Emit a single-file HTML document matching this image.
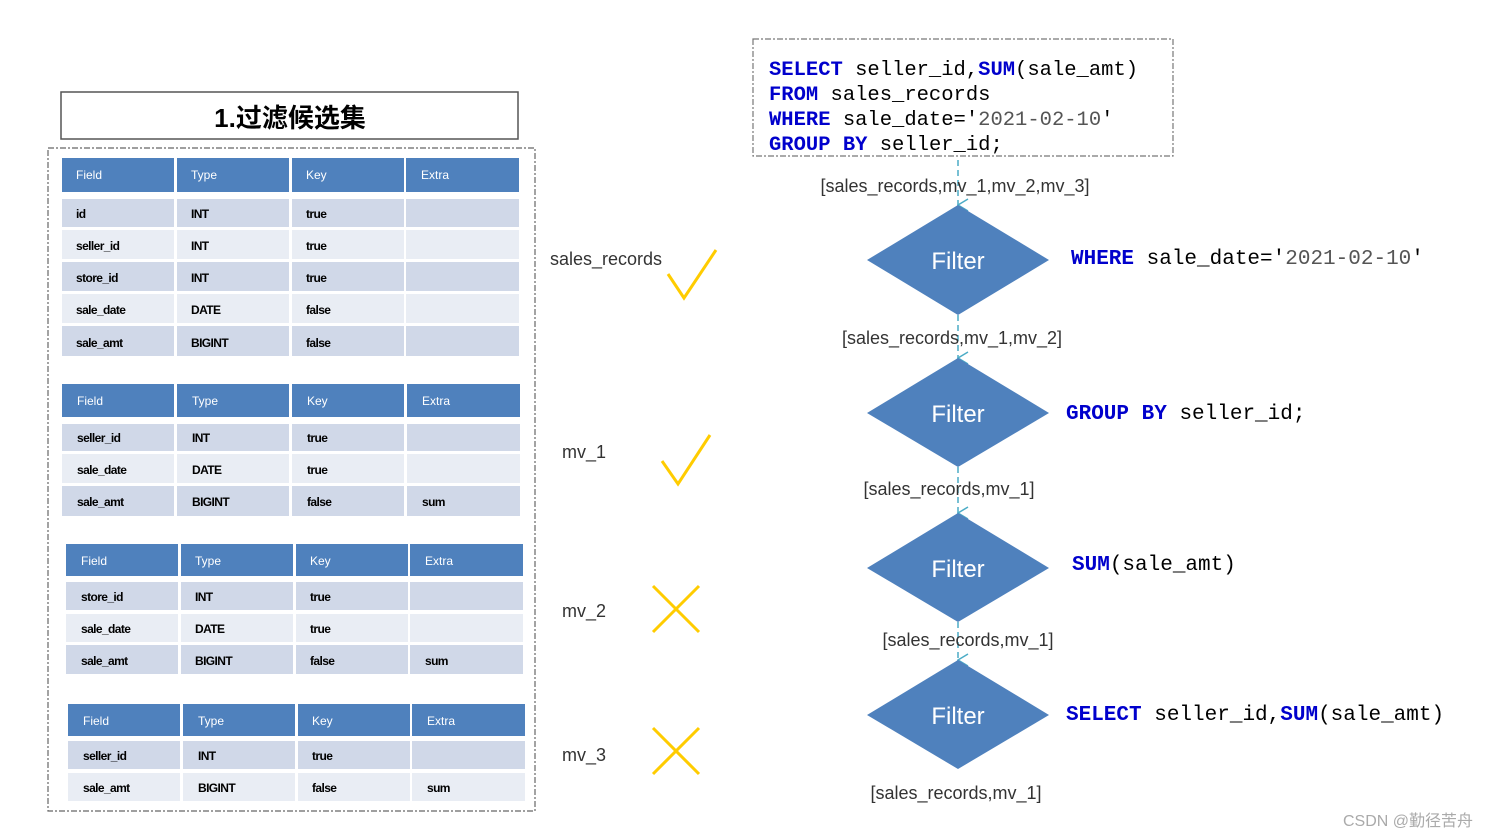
<!DOCTYPE html>
<html><head><meta charset="utf-8"><style>
html,body{margin:0;padding:0;background:#fff;}
svg{display:block;}
.h{font-family:"Liberation Sans",sans-serif;font-size:12px;fill:#fff;}
.c{font-family:"Liberation Sans",sans-serif;font-size:12px;font-weight:bold;fill:#000;letter-spacing:-0.6px;}
.m{font-family:"Liberation Mono",monospace;font-size:20.5px;fill:#000;}
.k{font-weight:bold;fill:#0000cc;}
.l{font-family:"Liberation Sans",sans-serif;font-size:18px;fill:#333;}
.f{font-family:"Liberation Sans",sans-serif;font-size:24px;fill:#fff;}
</style></head><body>
<svg width="1489" height="838" viewBox="0 0 1489 838" xmlns="http://www.w3.org/2000/svg">
<defs>
<marker id="ar" markerWidth="14" markerHeight="12" refX="7" refY="11" orient="auto" markerUnits="userSpaceOnUse">
<path d="M1,1 L7,11 L13,1" fill="none" stroke="#4bacc6" stroke-width="1.5"/>
</marker>
</defs>
<!-- title -->
<rect x="61" y="92" width="457" height="47" fill="#fff" stroke="#555" stroke-width="1.5"/>
<text x="290" y="127" text-anchor="middle" font-family="'Liberation Sans','Noto Sans CJK SC',sans-serif" font-size="26" font-weight="bold" fill="#000">1.过滤候选集</text>
<rect x="48" y="148" width="487" height="663" fill="none" stroke="#666" stroke-width="1.2" stroke-dasharray="6,2,2,2"/>

<!-- table 1 -->
<g>
<rect x="62" y="158" width="112" height="34" fill="#4f81bd"/><rect x="177" y="158" width="112" height="34" fill="#4f81bd"/><rect x="292" y="158" width="112" height="34" fill="#4f81bd"/><rect x="406" y="158" width="113" height="34" fill="#4f81bd"/>
<text class="h" x="76" y="179">Field</text><text class="h" x="191" y="179">Type</text><text class="h" x="306" y="179">Key</text><text class="h" x="421" y="179">Extra</text>
<g fill="#d0d8e8"><rect x="62" y="199" width="112" height="28"/><rect x="177" y="199" width="112" height="28"/><rect x="292" y="199" width="112" height="28"/><rect x="406" y="199" width="113" height="28"/></g>
<g fill="#e9edf4"><rect x="62" y="230" width="112" height="29"/><rect x="177" y="230" width="112" height="29"/><rect x="292" y="230" width="112" height="29"/><rect x="406" y="230" width="113" height="29"/></g>
<g fill="#d0d8e8"><rect x="62" y="262" width="112" height="29"/><rect x="177" y="262" width="112" height="29"/><rect x="292" y="262" width="112" height="29"/><rect x="406" y="262" width="113" height="29"/></g>
<g fill="#e9edf4"><rect x="62" y="294" width="112" height="29"/><rect x="177" y="294" width="112" height="29"/><rect x="292" y="294" width="112" height="29"/><rect x="406" y="294" width="113" height="29"/></g>
<g fill="#d0d8e8"><rect x="62" y="326" width="112" height="30"/><rect x="177" y="326" width="112" height="30"/><rect x="292" y="326" width="112" height="30"/><rect x="406" y="326" width="113" height="30"/></g>
<text class="c" x="76" y="218">id</text><text class="c" x="191" y="218">INT</text><text class="c" x="306" y="218">true</text>
<text class="c" x="76" y="250">seller_id</text><text class="c" x="191" y="250">INT</text><text class="c" x="306" y="250">true</text>
<text class="c" x="76" y="282">store_id</text><text class="c" x="191" y="282">INT</text><text class="c" x="306" y="282">true</text>
<text class="c" x="76" y="314">sale_date</text><text class="c" x="191" y="314">DATE</text><text class="c" x="306" y="314">false</text>
<text class="c" x="76" y="347">sale_amt</text><text class="c" x="191" y="347">BIGINT</text><text class="c" x="306" y="347">false</text>
</g>

<!-- table 2 -->
<g>
<rect x="62" y="384" width="112" height="33" fill="#4f81bd"/><rect x="177" y="384" width="112" height="33" fill="#4f81bd"/><rect x="292" y="384" width="112" height="33" fill="#4f81bd"/><rect x="407" y="384" width="113" height="33" fill="#4f81bd"/>
<text class="h" x="77" y="405">Field</text><text class="h" x="192" y="405">Type</text><text class="h" x="307" y="405">Key</text><text class="h" x="422" y="405">Extra</text>
<g fill="#d0d8e8"><rect x="62" y="424" width="112" height="27"/><rect x="177" y="424" width="112" height="27"/><rect x="292" y="424" width="112" height="27"/><rect x="407" y="424" width="113" height="27"/></g>
<g fill="#e9edf4"><rect x="62" y="454" width="112" height="29"/><rect x="177" y="454" width="112" height="29"/><rect x="292" y="454" width="112" height="29"/><rect x="407" y="454" width="113" height="29"/></g>
<g fill="#d0d8e8"><rect x="62" y="486" width="112" height="30"/><rect x="177" y="486" width="112" height="30"/><rect x="292" y="486" width="112" height="30"/><rect x="407" y="486" width="113" height="30"/></g>
<text class="c" x="77" y="442">seller_id</text><text class="c" x="192" y="442">INT</text><text class="c" x="307" y="442">true</text>
<text class="c" x="77" y="474">sale_date</text><text class="c" x="192" y="474">DATE</text><text class="c" x="307" y="474">true</text>
<text class="c" x="77" y="506">sale_amt</text><text class="c" x="192" y="506">BIGINT</text><text class="c" x="307" y="506">false</text><text class="c" x="422" y="506">sum</text>
</g>

<!-- table 3 -->
<g>
<rect x="66" y="544" width="112" height="32" fill="#4f81bd"/><rect x="181" y="544" width="112" height="32" fill="#4f81bd"/><rect x="296" y="544" width="112" height="32" fill="#4f81bd"/><rect x="410" y="544" width="113" height="32" fill="#4f81bd"/>
<text class="h" x="81" y="565">Field</text><text class="h" x="195" y="565">Type</text><text class="h" x="310" y="565">Key</text><text class="h" x="425" y="565">Extra</text>
<g fill="#d0d8e8"><rect x="66" y="582" width="112" height="28"/><rect x="181" y="582" width="112" height="28"/><rect x="296" y="582" width="112" height="28"/><rect x="410" y="582" width="113" height="28"/></g>
<g fill="#e9edf4"><rect x="66" y="614" width="112" height="28"/><rect x="181" y="614" width="112" height="28"/><rect x="296" y="614" width="112" height="28"/><rect x="410" y="614" width="113" height="28"/></g>
<g fill="#d0d8e8"><rect x="66" y="645" width="112" height="29"/><rect x="181" y="645" width="112" height="29"/><rect x="296" y="645" width="112" height="29"/><rect x="410" y="645" width="113" height="29"/></g>
<text class="c" x="81" y="601">store_id</text><text class="c" x="195" y="601">INT</text><text class="c" x="310" y="601">true</text>
<text class="c" x="81" y="633">sale_date</text><text class="c" x="195" y="633">DATE</text><text class="c" x="310" y="633">true</text>
<text class="c" x="81" y="665">sale_amt</text><text class="c" x="195" y="665">BIGINT</text><text class="c" x="310" y="665">false</text><text class="c" x="425" y="665">sum</text>
</g>

<!-- table 4 -->
<g>
<rect x="68" y="704" width="112" height="32" fill="#4f81bd"/><rect x="183" y="704" width="112" height="32" fill="#4f81bd"/><rect x="298" y="704" width="112" height="32" fill="#4f81bd"/><rect x="412" y="704" width="113" height="32" fill="#4f81bd"/>
<text class="h" x="83" y="725">Field</text><text class="h" x="198" y="725">Type</text><text class="h" x="312" y="725">Key</text><text class="h" x="427" y="725">Extra</text>
<g fill="#d0d8e8"><rect x="68" y="741" width="112" height="28"/><rect x="183" y="741" width="112" height="28"/><rect x="298" y="741" width="112" height="28"/><rect x="412" y="741" width="113" height="28"/></g>
<g fill="#e9edf4"><rect x="68" y="773" width="112" height="28"/><rect x="183" y="773" width="112" height="28"/><rect x="298" y="773" width="112" height="28"/><rect x="412" y="773" width="113" height="28"/></g>
<text class="c" x="83" y="760">seller_id</text><text class="c" x="198" y="760">INT</text><text class="c" x="312" y="760">true</text>
<text class="c" x="83" y="792">sale_amt</text><text class="c" x="198" y="792">BIGINT</text><text class="c" x="312" y="792">false</text><text class="c" x="427" y="792">sum</text>
</g>

<!-- middle labels and marks -->
<text class="l" x="550" y="265">sales_records</text>
<polyline points="668,274 684,298 716,250" fill="none" stroke="#ffcc00" stroke-width="3"/>
<text class="l" x="562" y="458">mv_1</text>
<polyline points="662,461 678,484 710,435" fill="none" stroke="#ffcc00" stroke-width="3"/>
<text class="l" x="562" y="617">mv_2</text>
<path d="M653,586 L699,632 M699,586 L653,632" stroke="#ffcc00" stroke-width="3"/>
<text class="l" x="562" y="761">mv_3</text>
<path d="M653,728 L699,774 M699,728 L653,774" stroke="#ffcc00" stroke-width="3"/>

<!-- SQL box -->
<rect x="753" y="39" width="420" height="117" fill="none" stroke="#777" stroke-width="1.2" stroke-dasharray="6,2,2,2"/>
<text class="m" x="769" y="75"><tspan class="k">SELECT</tspan> seller_id,<tspan class="k">SUM</tspan>(sale_amt)</text>
<text class="m" x="769" y="100"><tspan class="k">FROM</tspan> sales_records</text>
<text class="m" x="769" y="125"><tspan class="k">WHERE</tspan> sale_date='<tspan fill="#555">2021-02-10</tspan>'</text>
<text class="m" x="769" y="150"><tspan class="k">GROUP</tspan> <tspan class="k">BY</tspan> seller_id;</text>

<!-- connectors -->
<g stroke="#4bacc6" stroke-width="1.5" stroke-dasharray="6,4" fill="none">
<line x1="958" y1="160" x2="958" y2="205" marker-end="url(#ar)"/>
<line x1="958" y1="315" x2="958" y2="358" marker-end="url(#ar)"/>
<line x1="958" y1="467" x2="958" y2="513" marker-end="url(#ar)"/>
<line x1="958" y1="622" x2="958" y2="660" marker-end="url(#ar)"/>
</g>

<!-- diamonds -->
<g fill="#4f81bd">
<polygon points="958,205 1049,260 958,315 867,260"/>
<polygon points="958,358 1049,413 958,467 867,413"/>
<polygon points="958,513 1049,568 958,622 867,568"/>
<polygon points="958,660 1049,715 958,769 867,715"/>
</g>
<text class="f" x="958" y="269" text-anchor="middle">Filter</text>
<text class="f" x="958" y="422" text-anchor="middle">Filter</text>
<text class="f" x="958" y="577" text-anchor="middle">Filter</text>
<text class="f" x="958" y="724" text-anchor="middle">Filter</text>

<text class="l" x="955" y="192" text-anchor="middle">[sales_records,mv_1,mv_2,mv_3]</text>
<text class="l" x="952" y="344" text-anchor="middle">[sales_records,mv_1,mv_2]</text>
<text class="l" x="949" y="495" text-anchor="middle">[sales_records,mv_1]</text>
<text class="l" x="968" y="646" text-anchor="middle">[sales_records,mv_1]</text>
<text class="l" x="956" y="799" text-anchor="middle">[sales_records,mv_1]</text>

<g style="font-size:21px">
<text class="m" style="font-size:21px" x="1071" y="264"><tspan class="k">WHERE</tspan> sale_date='<tspan fill="#555">2021-02-10</tspan>'</text>
<text class="m" style="font-size:21px" x="1066" y="419"><tspan class="k">GROUP</tspan> <tspan class="k">BY</tspan> seller_id;</text>
<text class="m" style="font-size:21px" x="1072" y="570"><tspan class="k">SUM</tspan>(sale_amt)</text>
<text class="m" style="font-size:21px" x="1066" y="720"><tspan class="k">SELECT</tspan> seller_id,<tspan class="k">SUM</tspan>(sale_amt)</text>
</g>

<text x="1473" y="826" text-anchor="end" font-family="'Liberation Sans','Noto Sans CJK SC',sans-serif" font-size="16" fill="#aaa">CSDN @勤径苦舟</text>
</svg>
</body></html>
